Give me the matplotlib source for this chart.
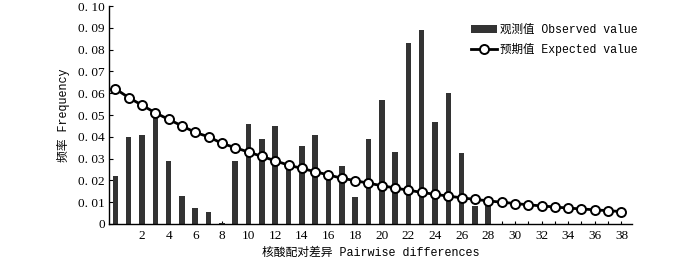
import matplotlib
matplotlib.use("Agg")
import matplotlib.pyplot as plt
from matplotlib.lines import Line2D
from matplotlib.patches import Patch

# mismatch distribution: observed pairwise differences vs expected
diffs_obs = list(range(0, 29))
observed = [0.022, 0.040, 0.041, 0.050, 0.029, 0.013, 0.0075, 0.0055, 0.0003,
            0.029, 0.046, 0.039, 0.045, 0.026, 0.036, 0.041, 0.023, 0.0266,
            0.0124, 0.039, 0.057, 0.033, 0.083, 0.089, 0.047, 0.060, 0.0325,
            0.0083, 0.0083]

diffs_exp = list(range(0, 39))
expected = [0.062, 0.058, 0.0545, 0.051, 0.048, 0.045, 0.042, 0.040, 0.037,
            0.035, 0.033, 0.031, 0.029, 0.027, 0.0255, 0.024, 0.0225, 0.021,
            0.0199, 0.0187, 0.0176, 0.0165, 0.0155, 0.0145, 0.0136, 0.0128,
            0.012, 0.0113, 0.0106, 0.0100, 0.0094, 0.0088, 0.0083, 0.0078,
            0.0073, 0.0069, 0.0065, 0.0061, 0.0057]

y_ticks = [0, 0.01, 0.02, 0.03, 0.04, 0.05, 0.06, 0.07, 0.08, 0.09, 0.10]
y_labels = ["0", "0. 01", "0. 02", "0. 03", "0. 04", "0. 05", "0. 06",
            "0. 07", "0. 08", "0. 09", "0. 10"]

MIXED = ["Liberation Mono", "Noto Sans CJK SC"]
NUMS = ["Liberation Serif"]

fig = plt.figure(figsize=(7.0, 2.58), dpi=100)
ax = fig.add_axes([0.1557, 0.1318, 0.903 - 0.1557, 0.9767 - 0.1318])

ax.bar(diffs_obs, observed, width=0.42, color="#333333", zorder=2)
ax.plot(diffs_exp, expected, color="black", linewidth=2.0, marker="o",
        markersize=6.5, markerfacecolor="white", markeredgecolor="black",
        markeredgewidth=1.4, zorder=3)

ax.set_xlim(-0.48, 38.8)
ax.set_ylim(0, 0.10)

ax.set_xticks(diffs_exp)
ax.set_xticklabels([str(d) if (d % 2 == 0 and d > 0) else "" for d in diffs_exp],
                   family=NUMS, fontsize=9.5)
ax.set_yticks(y_ticks)
ax.set_yticklabels(y_labels, family=NUMS, fontsize=9.5)
ax.tick_params(axis="x", direction="in", length=2, width=0.8, pad=4)
ax.tick_params(axis="y", direction="in", length=3, width=0.8, pad=3)

for s in ("top", "right"):
    ax.spines[s].set_visible(False)
for s in ("left", "bottom"):
    ax.spines[s].set_linewidth(1.0)

ax.set_xlabel("核酸配对差异 Pairwise differences", family=MIXED, fontsize=8.5,
              labelpad=4)
ax.set_ylabel("频率 Frequency", family=MIXED, fontsize=8.5, labelpad=6)

handles = [
    Patch(facecolor="#333333", edgecolor="none", label="观测值 Observed value"),
    Line2D([0], [0], color="black", linewidth=2.0, marker="o", markersize=6.5,
           markerfacecolor="white", markeredgecolor="black",
           markeredgewidth=1.4, label="预期值 Expected value"),
]
fig.legend(handles=handles, loc="upper left", bbox_to_anchor=(0.665, 0.93),
           frameon=False, prop={"family": MIXED, "size": 8.3},
           handlelength=2.2, handleheight=0.7, handletextpad=0.3,
           labelspacing=0.6, borderpad=0)

fig.savefig("out.png", dpi=100)
